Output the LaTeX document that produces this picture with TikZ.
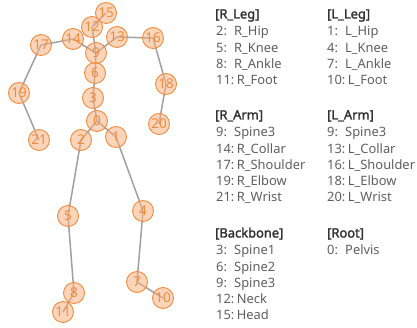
\documentclass[tikz,border=0pt]{standalone}
\usepackage{fontspec}
\setmainfont{Noto Sans}[BoldFont={Noto Sans},BoldFeatures={FakeBold=2}]
\definecolor{bone}{RGB}{160,160,160}
\definecolor{jointedge}{RGB}{240,140,62}
\definecolor{jointfill}{RGB}{247,176,128}
\definecolor{jointtext}{RGB}{240,140,62}
\definecolor{itemtext}{RGB}{95,95,95}
\definecolor{headtext}{RGB}{50,50,50}
\tikzset{
  joint/.style={circle, draw=jointedge, line width=0.9pt, fill=jointfill,
    fill opacity=0.55, text opacity=1, text=jointtext, minimum size=21pt,
    inner sep=0pt, font=\fontsize{13.5pt}{13.5pt}\selectfont},
  bonelink/.style={draw=bone, line width=1.5pt},
  grouphead/.style={anchor=base west, inner sep=0pt, text=headtext,
    font=\fontsize{12.9pt}{14pt}\selectfont\bfseries},
  itemline/.style={anchor=base west, inner sep=0pt, text=itemtext,
    font=\fontsize{12.9pt}{14pt}\selectfont},
}
% number column followed by the joint name
\newcommand{\jointitem}[2]{\ifnum#1<10 \makebox[18pt][l]{#1:}\else #1:\hspace{2.5pt}\fi #2}
\begin{document}
\begin{tikzpicture}[x=1pt,y=-1pt]
\useasboundingbox (0,0) rectangle (417,328);

% joint positions
\coordinate (p0) at (97,121);
\coordinate (p1) at (116,137);
\coordinate (p2) at (81,140);
\coordinate (p3) at (93,98);
\coordinate (p4) at (143,211);
\coordinate (p5) at (68,216);
\coordinate (p6) at (95,73);
\coordinate (p7) at (137,282);
\coordinate (p8) at (74,293);
\coordinate (p9) at (96,53);
\coordinate (p10) at (163,298);
\coordinate (p11) at (63,312);
\coordinate (p12) at (92,27);
\coordinate (p13) at (117,37);
\coordinate (p14) at (73,39);
\coordinate (p15) at (106,13);
\coordinate (p16) at (153,38);
\coordinate (p17) at (41,45);
\coordinate (p18) at (166,84);
\coordinate (p19) at (19,93);
\coordinate (p20) at (159,124);
\coordinate (p21) at (39,140);

% bones
\foreach \a/\b in {0/1,0/2,0/3,1/4,2/5,3/6,4/7,5/8,6/9,7/10,8/11,9/12,9/13,9/14,
                   12/15,13/16,14/17,16/18,17/19,18/20,19/21}
  \draw[bonelink] (p\a) -- (p\b);

% joints
\foreach \i in {0,...,21}
  \node[joint] (j\i) at (p\i) {\i};

% joint legend, left column
\node[grouphead] (hrleg) at (215,18.5) {[R\_Leg]};
\node[grouphead] (hrarm) at (215,119.5) {[R\_Arm]};
\node[grouphead] (hback) at (215,237.5) {[Backbone]};
% right column
\node[grouphead] (hlleg) at (327,18.5) {[L\_Leg]};
\node[grouphead] (hlarm) at (327,119.5) {[L\_Arm]};
\node[grouphead] (hroot) at (327,237.5) {[Root]};

\foreach \n/\t [count=\k from 0] in {2/R\_Hip,5/R\_Knee,8/R\_Ankle,11/R\_Foot}
  \node[itemline] (rl\k) at (216,36+16.2*\k) {\jointitem{\n}{\t}};
\foreach \n/\t [count=\k from 0] in {1/L\_Hip,4/L\_Knee,7/L\_Ankle,10/L\_Foot}
  \node[itemline] (ll\k) at (327,36+16.2*\k) {\jointitem{\n}{\t}};
\foreach \n/\t [count=\k from 0] in {9/Spine3,14/R\_Collar,17/R\_Shoulder,19/R\_Elbow,21/R\_Wrist}
  \node[itemline] (ra\k) at (216,137+16.2*\k) {\jointitem{\n}{\t}};
\foreach \n/\t [count=\k from 0] in {9/Spine3,13/L\_Collar,16/L\_Shoulder,18/L\_Elbow,20/L\_Wrist}
  \node[itemline] (la\k) at (327,137+16.2*\k) {\jointitem{\n}{\t}};
\foreach \n/\t [count=\k from 0] in {3/Spine1,6/Spine2,9/Spine3,12/Neck,15/Head}
  \node[itemline] (bb\k) at (216,255+16.2*\k) {\jointitem{\n}{\t}};
\node[itemline] (rt0) at (327,255) {\jointitem{0}{Pelvis}};
\end{tikzpicture}
\end{document}
